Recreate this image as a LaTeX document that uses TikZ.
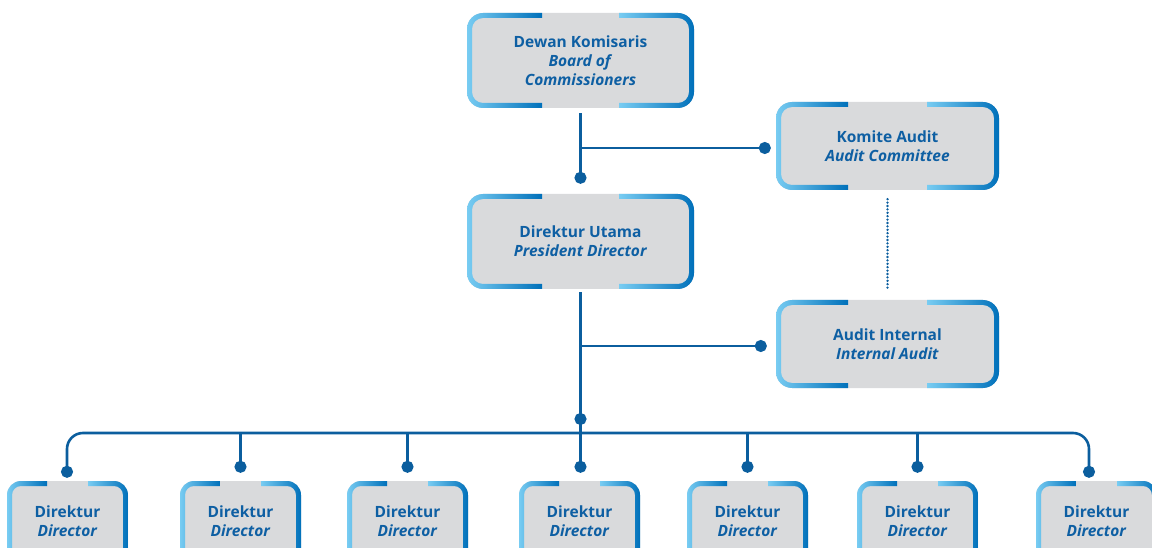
\documentclass[tikz,border=0pt]{standalone}
\usepackage{fontspec}
\setmainfont{Open Sans}
\usetikzlibrary{arrows.meta}
\definecolor{boxgray}{HTML}{D9DADC}
\definecolor{lblue}{HTML}{78CCF2}
\definecolor{dblue}{HTML}{0070BA}
\definecolor{txtblue}{HTML}{0E5FA3}
\definecolor{lineblue}{HTML}{0B5E9E}
\tikzset{
  boxtext/.style={text=txtblue, font=\bfseries\fontsize{15.5}{19}\selectfont, align=center, inner sep=0pt, rectangle},
  conn/.style={draw=lineblue, line width=2.6pt},
  dotend/.style={-{Circle[length=12pt,width=12pt]}},
  dotline/.style={draw=lineblue, line width=2.6pt, dash pattern=on 0pt off 3.4pt, line cap=round},
}
% name, L, T, R, B, a, radius, text
\newcommand\orgbox[8]{%
  \pgfmathsetmacro\bw{#4-(#2)}%
  \pgfmathsetmacro\bh{#5-(#3)}%
  \def\ro{#7}\def\w{5}\pgfmathsetmacro\ri{#7-5}%
  \fill[boxgray, rounded corners=#7pt] (#2,#3) rectangle (#4,#5);
  \shade[left color=lblue, right color=dblue]
    ({#2+#6},#3) -- ({#2+\ro},#3) arc[start angle=270, end angle=180, radius=\ro]
    -- (#2,{#5-\ro}) arc[start angle=180, end angle=90, radius=\ro]
    -- ({#2+#6},#5) -- ({#2+#6},{#5-\w}) -- ({#2+\w+\ri},{#5-\w})
    arc[start angle=90, end angle=180, radius=\ri]
    -- ({#2+\w},{#3+\w+\ri}) arc[start angle=180, end angle=270, radius=\ri]
    -- ({#2+#6},{#3+\w}) -- cycle;
  \shade[left color=lblue, right color=dblue]
    ({#4-#6},#3) -- ({#4-\ro},#3) arc[start angle=270, end angle=360, radius=\ro]
    -- (#4,{#5-\ro}) arc[start angle=0, end angle=90, radius=\ro]
    -- ({#4-#6},#5) -- ({#4-#6},{#5-\w}) -- ({#4-\w-\ri},{#5-\w})
    arc[start angle=90, end angle=0, radius=\ri]
    -- ({#4-\w},{#3+\w+\ri}) arc[start angle=0, end angle=-90, radius=\ri]
    -- ({#4-#6},{#3+\w}) -- cycle;
  \node[boxtext, minimum width=\bw pt, minimum height=\bh pt] (#1) at ({(#2+#4)/2},{(#3+#5)/2}) {#8};
}
\begin{document}
\begin{tikzpicture}[x=1pt,y=-1pt]
\useasboundingbox (0,0) rectangle (1152,548);
\clip (0,0) rectangle (1152,548);
\orgbox{boc}{467}{13}{694}{108}{75}{16}{Dewan Komisaris\\\textit{Board of}\\\textit{Commissioners}}
\orgbox{ka}{776}{102}{999}{190}{72}{16}{Komite Audit\\\textit{Audit Committee}}
\orgbox{du}{467}{194}{694}{289}{75}{16}{Direktur Utama\\\textit{President Director}}
\orgbox{ai}{776}{300}{999}{388}{72}{16}{Audit Internal\\\textit{Internal Audit}}
\foreach \n/\l in {1/7,2/180,3/347,4/519,5/687,6/857,7/1036}{
  \orgbox{d\n}{\l}{481}{\l+121}{562}{40}{14}{Direktur\\\textit{Director}}
}
% connectors
\draw[conn, dotend] ([yshift=-5pt]boc.south) -- ([yshift=10pt]du.north);
\draw[conn, dotend] (boc.south |- 0,148) -- ([xshift=-5pt]ka.west |- 0,148);
\draw[dotline] ([yshift=-9pt]ka.south) -- ([yshift=12pt]ai.north);
\draw[conn, dotend] ([yshift=-3pt]du.south) -- (du.south |- 0,425);
\draw[conn, dotend] (du.south |- 0,418) -- ([yshift=8pt]du.south |- d4.north);
\draw[conn, dotend] (du.south |- 0,346) -- ([xshift=-9pt]ai.west |- 0,346);
\coordinate (busL) at (67,433);
\coordinate (busR) at (1089,433);
\draw[conn, rounded corners=16pt, {Circle[length=12pt,width=12pt]}-{Circle[length=12pt,width=12pt]}]
  ([yshift=3pt]d1.north -| busL) -- (busL) -- (busR) -- ([yshift=3pt]d7.north -| busR);
\foreach \n in {2,3,5,6}{
  \draw[conn, dotend] (d\n.north |- busL) -- ([yshift=8pt]d\n.north);
}
\end{tikzpicture}
\end{document}
